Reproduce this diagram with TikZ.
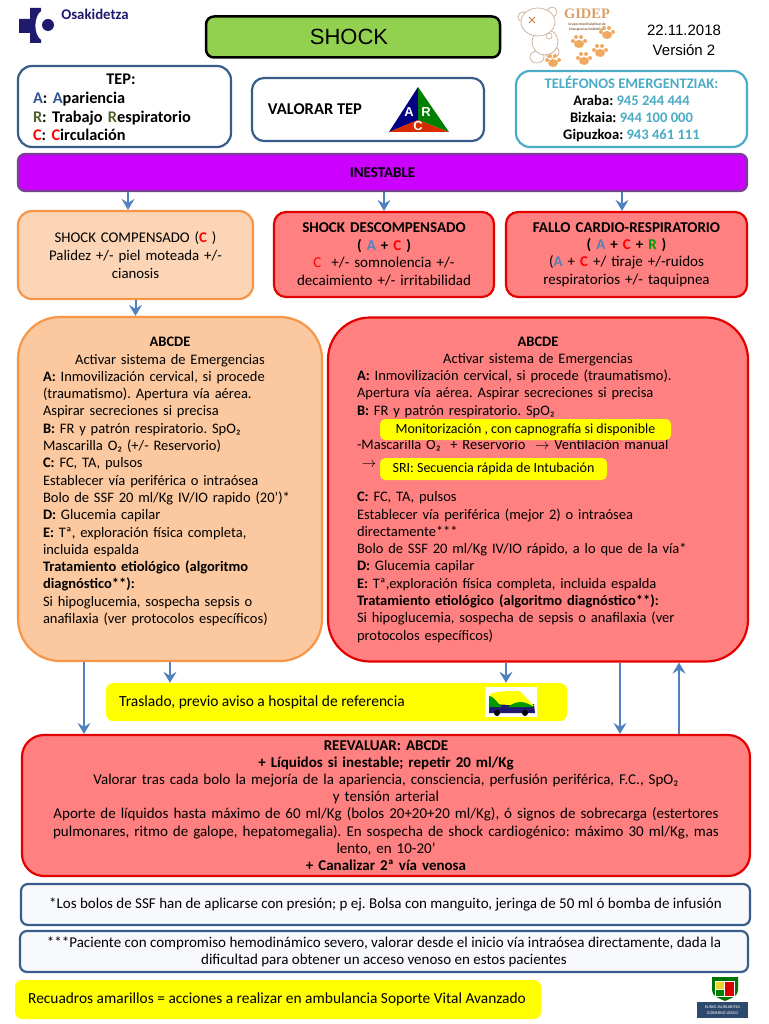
\documentclass[tikz,border=0pt]{standalone}
\usepackage{fontspec}
\setmainfont{Carlito}
\newfontfamily\arialfont{Liberation Sans}
\newfontfamily\gidepfont{Liberation Serif}
\usetikzlibrary{arrows.meta}

\definecolor{verdeshock}{HTML}{92D050}
\definecolor{azulborde}{HTML}{385D8A}
\definecolor{azulcielo}{HTML}{4BACC6}
\definecolor{azulflecha}{HTML}{4F81BD}
\definecolor{morado}{HTML}{CC00FF}
\definecolor{moradoborde}{HTML}{7B3F98}
\definecolor{naranja}{HTML}{F79646}
\definecolor{naranjaclaro}{HTML}{FBD5B5}
\definecolor{naranjafondo}{HTML}{FBC89F}
\definecolor{rojofondo}{HTML}{FF8080}
\definecolor{amarillo}{HTML}{FFFF00}
\definecolor{marino}{HTML}{1F1A6E}
\definecolor{oso}{HTML}{EFA960}
\definecolor{osolinea}{HTML}{C9AE96}
\definecolor{letraA}{HTML}{2F5597}
\definecolor{letraR}{HTML}{4F6228}
\definecolor{notafondo}{HTML}{F8F9FC}

\newcommand{\lineac}[1]{\makebox[\linewidth][c]{#1}}

\begin{document}
\frenchspacing
\begin{tikzpicture}[x=1pt, y=-1pt,
    caja/.style={rounded corners=#1, line width=2.2pt, align=center, inner sep=0pt,
                 font=\fontsize{14.5}{17.3}\selectfont},
    caja/.default=12pt,
    nota/.style={caja=7pt, draw=azulborde, fill=notafondo, font=\fontsize{15}{17.2}\selectfont},
    flecha/.style={draw=azulflecha, line width=2pt, -{Stealth[length=11pt, width=13pt, inset=4pt]}},
    amarilla/.style={fill=amarillo, rounded corners=5pt, inner sep=0pt, align=left,
                     font=\fontsize{14}{15}\selectfont},
    letra/.style={text=white, font=\arialfont\bfseries\fontsize{13}{13}\selectfont, inner sep=0pt}]
    \useasboundingbox (0,0) rectangle (768,1024);
    \fill[white] (0,0) rectangle (768,1024);

    % Cabecera
    \node[caja=8pt, draw=black, line width=2.5pt, fill=verdeshock, minimum width=294pt, minimum height=41pt,
          font=\arialfont\fontsize{22}{24}\selectfont] (shock) at (353,37) {SHOCK\kern8pt};
    \node[font=\arialfont\fontsize{15}{20}\selectfont, align=center, inner sep=0pt] (fecha) at (684,40) {22.11.2018\\Versión 2};

    % Logo Osakidetza
    \fill[marino] (30,8) -- (41,8) -- (41,11) .. controls (34,16) and (33,34) .. (41,40) -- (41,43) -- (30,43)
        -- (30,33) -- (19,33) -- (19,19) -- (30,19) -- cycle;
    \fill[marino] (48,25) circle (6pt);
    \node[text=marino, font=\bfseries\fontsize{14.8}{16}\selectfont, inner sep=0pt] (osakidetza) at (95,14) {Osakidetza};

    % Logo GIDEP
    \draw[osolinea, line width=.7pt, fill=white] (523,17) circle (5pt);
    \draw[osolinea, line width=.7pt, fill=white] (552,12) circle (5pt);
    \draw[osolinea, line width=.7pt, fill=white] (537,57) ellipse (7pt and 6pt);
    \draw[osolinea, line width=.7pt, fill=white] (552,52) ellipse (7pt and 6pt);
    \draw[osolinea, line width=.7pt, fill=white] (545,42) ellipse (13pt and 13pt);
    \draw[osolinea, line width=.7pt, fill=white] (538,22) ellipse (17pt and 14pt);
    \draw[osolinea, line width=.6pt] (549,36) circle (3pt);
    \draw[brown, line width=1pt] (529,17) -- (535,23) (535,17) -- (529,23);
    \node[text=oso!80!gray, font=\gidepfont\bfseries\fontsize{14.5}{14}\selectfont, inner sep=0pt] (gidep) at (587,14) {GIDEP};
    \node[text=brown!70!black, font=\bfseries\fontsize{3.6}{4.4}\selectfont, align=center, inner sep=0pt] (grupo) at (587,27) {Grupo Interdisciplinar de\\Emergencias Pediátricas};
    \foreach \px/\py in {553/61, 584/59, 600/51, 579/42, 607/33}{
        \begin{scope}[shift={(\px,\py)}]
            \fill[oso] (0,2) ellipse (5pt and 4pt);
            \fill[oso] (-6,-1) circle (2pt);
            \fill[oso] (-3,-5) circle (2pt);
            \fill[oso] (2,-5) circle (2pt);
            \fill[oso] (6,-1) circle (2pt);
        \end{scope}
    }

    % Fila TEP
    \node[caja=14pt, draw=azulborde, minimum width=213pt, minimum height=81pt] (tep) at (124.5,106.5) {};
    \node[font=\bfseries\fontsize{16.3}{18.7}\selectfont, align=left, inner sep=0pt, text width=176pt] (teptxt) at (121,107.5)
        {\lineac{TEP:}\\{\color{letraA}A}: {\color{letraA}A}pariencia\\{\color{letraR}R}: Trabajo {\color{letraR}R}espiratorio\\{\color{red}C}: {\color{red}C}irculación};
    \node[caja=12pt, draw=azulborde, minimum width=232pt, minimum height=63pt] (valorar) at (368,109.5) {};
    \node[font=\bfseries\fontsize{16.5}{17}\selectfont, inner sep=0pt] (valorartxt) at (315,109) {VALORAR TEP};
    \coordinate (arriba) at (418,87);
    \coordinate (izq) at (389,132);
    \coordinate (der) at (449,132);
    \coordinate (centro) at (418,120);
    \fill[blue!50!black] (arriba) -- (izq) -- (centro) -- cycle;
    \fill[green!50!black] (arriba) -- (der) -- (centro) -- cycle;
    \fill[red!60!orange!85!black] (izq) -- (der) -- (centro) -- cycle;
    \node[letra] (letA) at (409,112) {A};
    \node[letra] (letR) at (426,112) {R};
    \node[letra] (letC) at (418,126) {C};
    \node[caja=14pt, draw=azulcielo, minimum width=231pt, minimum height=76pt,
          font=\bfseries\fontsize{14.6}{17}\selectfont] (telefonos) at (631.5,109)
        {{\color{azulcielo}TELÉFONOS EMERGENTZIAK:}\\Araba: {\color{azulcielo}945 244 444}\\Bizkaia: {\color{azulcielo}944 100 000}\\Gipuzkoa: {\color{azulcielo}943 461 111}};

    % Inestable
    \node[caja=7pt, draw=moradoborde, fill=morado, minimum width=729pt, minimum height=37pt,
          font=\bfseries\fontsize{15}{15}\selectfont] (inestable) at (382.5,172.5) {INESTABLE};

    % Tipos de shock
    \node[caja=14pt, draw=naranja, fill=naranjaclaro, minimum width=235pt, minimum height=88pt, text width=205pt,
          font=\fontsize{14.8}{18}\selectfont] (compensado) at (135.5,255)
        {SHOCK COMPENSADO ({\color{red}\textbf{C}} )\\Palidez +/- piel moteada +/-\\cianosis};
    \node[caja=12pt, draw=red!90!black, fill=rojofondo, minimum width=220pt, minimum height=85pt, text width=210pt,
          font=\fontsize{15}{17.4}\selectfont] (descompensado) at (384,254.5)
        {\textbf{SHOCK DESCOMPENSADO}\\\textbf{( {\color{azulflecha}A} + {\color{red}C} )}\\{\color{red}C} \ +/- somnolencia +/-\\decaimiento +/- irritabilidad};
    \node[caja=12pt, draw=red!90!black, fill=rojofondo, minimum width=241pt, minimum height=85pt, text width=230pt,
          font=\fontsize{15}{17.4}\selectfont] (fallo) at (626.5,254.5)
        {\textbf{FALLO CARDIO-RESPIRATORIO}\\\textbf{( {\color{azulflecha}A} + {\color{red}C} + {\color{green!60!black}R} )}\\({\color{azulflecha}\textbf{A}} + {\color{red}\textbf{C}} +/ tiraje +/-ruidos\\respiratorios +/- taquipnea};

    % ABCDE
    \node[caja=42pt, draw=naranja, fill=naranjafondo, minimum width=304pt, minimum height=344pt, text width=254pt, align=left] (abcdeA) at (170,489)
        {\lineac{\textbf{ABCDE}}\\
         \lineac{Activar sistema de Emergencias}\\
         \textbf{A:} Inmovilización cervical, si procede\\
         (traumatismo). Apertura vía aérea.\\
         Aspirar secreciones si precisa\\
         \textbf{B:} FR y patrón respiratorio. SpO₂\\
         Mascarilla O₂ (+/- Reservorio)\\
         \textbf{C:} FC, TA, pulsos\\
         Establecer vía periférica o intraósea\\
         \mbox{Bolo de SSF 20 ml/Kg IV/IO rapido (20’)*}\\
         \textbf{D:} Glucemia capilar\\
         \textbf{E:} Tª, exploración física completa,\\
         incluida espalda\\
         \textbf{Tratamiento etiológico (algoritmo}\\
         \textbf{diagnóstico**):}\\
         Si hipoglucemia, sospecha sepsis o\\
         anafilaxia (ver protocolos específicos)\\
         \mbox{}};
    \node[caja=42pt, draw=red!90!black, fill=rojofondo, minimum width=420pt, minimum height=344pt, text width=362pt, align=left] (abcdeB) at (538,489.5)
        {\lineac{\textbf{ABCDE}}\\
         \lineac{Activar sistema de Emergencias}\\
         \textbf{A:} Inmovilización cervical, si procede (traumatismo).\\
         Apertura vía aérea. Aspirar secreciones si precisa\\
         \textbf{B:} FR y patrón respiratorio. SpO₂\\
         \mbox{}\\
         -Mascarilla O₂ \ + Reservorio \ $\rightarrow$ Ventilación manual\\
         \ $\rightarrow$\\
         \mbox{}\\
         \textbf{C:} FC, TA, pulsos\\
         Establecer vía periférica (mejor 2) o intraósea\\
         directamente***\\
         Bolo de SSF 20 ml/Kg IV/IO rápido, a lo que de la vía*\\
         \textbf{D:} Glucemia capilar\\
         \textbf{E:} Tª,exploración física completa, incluida espalda\\
         \textbf{Tratamiento etiológico (algoritmo diagnóstico**):}\\
         Si hipoglucemia, sospecha de sepsis o anafilaxia (ver\\
         protocolos específicos)};
    \node[amarilla, minimum width=291pt, minimum height=21pt] (monit) at (525.5,429.5) {Monitorización , con capnografía si disponible};
    \node[amarilla, minimum width=227pt, minimum height=22pt] (sri) at (493.5,469) {SRI: Secuencia rápida de Intubación};

    % Traslado
    \node[amarilla, minimum width=461pt, minimum height=38pt, rounded corners=7pt] (traslado) at (336.5,702) {};
    \node[inner sep=0pt, font=\fontsize{15.5}{15}\selectfont] (traslatxt) at (262,702) {Traslado, previo aviso a hospital de referencia};
    \fill[white] (485,687) rectangle (537,717);
    \fill[marino] (489,704) -- (534,704) -- (535,713) -- (489,713) -- cycle;
    \fill[amarillo] (489,704) -- (489,695) .. controls (492,692) and (500,691) .. (520,691) -- (534,706) -- cycle;
    \fill[green!60!black] (489,707) -- (489,696) .. controls (494,696) and (496,702) .. (502,707) -- cycle;
    \fill[green!60!black] (508,707) .. controls (518,699) and (526,702) .. (534,707) -- cycle;
    \fill[black] (497,713) circle (3pt);
    \fill[black] (525,713) circle (3pt);

    % Reevaluar
    \node[caja=22pt, draw=red!90!black, fill=rojofondo, minimum width=728pt, minimum height=141pt, text width=690pt,
          font=\fontsize{15}{17.2}\selectfont] (reevaluar) at (386,805.5)
        {\textbf{REEVALUAR: ABCDE}\\
         \textbf{+ Líquidos si inestable; repetir 20 ml/Kg}\\
         Valorar tras cada bolo la mejoría de la apariencia, consciencia, perfusión periférica, F.C., SpO₂\\
         y tensión arterial\\
         Aporte de líquidos hasta máximo de 60 ml/Kg (bolos 20+20+20 ml/Kg), ó signos de sobrecarga (estertores\\
         pulmonares, ritmo de galope, hepatomegalia). En sospecha de shock cardiogénico: máximo 30 ml/Kg, mas\\
         lento, en 10-20’\\
         \textbf{+ Canalizar 2ª vía venosa}};

    % Notas
    \node[nota, minimum width=729pt, minimum height=41pt] (nota1) at (385.5,904.5)
        {*Los bolos de SSF han de aplicarse con presión; p ej. Bolsa con manguito, jeringa de 50 ml ó bomba de infusión};
    \node[nota, minimum width=728pt, minimum height=41pt] (nota2) at (384,951.5)
        {***Paciente con compromiso hemodinámico severo, valorar desde el inicio vía intraósea directamente, dada la\\dificultad para obtener un acceso venoso en estos pacientes};
    \node[amarilla, minimum width=526pt, minimum height=39pt, rounded corners=7pt] (recuadros) at (278,999.5) {};
    \node[inner sep=0pt, font=\fontsize{15.4}{15}\selectfont] (recutxt) at (277,999.5) {Recuadros amarillos = acciones a realizar en ambulancia Soporte Vital Avanzado};

    % Escudo
    \fill[green!45!black] (712,977) -- (738,977) -- (738,990) .. controls (738,996) and (732,998) .. (725,1001) .. controls (718,998) and (712,996) .. (712,990) -- cycle;
    \fill[white] (715,981) rectangle (735,997);
    \fill[red!85!black] (725,982) rectangle (734,996);
    \fill[yellow!70!brown] (716,982) rectangle (724,989);
    \fill[green!50!black] (716,990) rectangle (724,996);
    \node[fill=azulborde!80!black, text=white, font=\fontsize{4.2}{6.5}\selectfont, align=center, minimum width=51pt, minimum height=16pt, inner sep=0pt] (gobierno) at (722.5,1010) {EUSKO JAURLARITZA\\GOBIERNO VASCO};

    % Flechas
    \draw[flecha] (inestable.south -| 128,0) -- (compensado.north -| 128,0);
    \draw[flecha] (inestable.south -| descompensado.north) -- (descompensado.north);
    \draw[flecha] (inestable.south -| 622,0) -- (fallo.north -| 622,0);
    \draw[flecha] (compensado.south) -- (compensado.south |- abcdeA.north);
    \draw[flecha] (abcdeA.south -| 84,0) -- (reevaluar.north -| 84,0);
    \draw[flecha] (abcdeA.south) -- (traslado.north -| abcdeA.south);
    \draw[flecha] (abcdeB.south -| 506,0) -- (traslado.north -| 506,0);
    \draw[flecha] (abcdeB.south -| 620,0) -- (reevaluar.north -| 620,0);
    \draw[flecha] (reevaluar.north -| 679,0) -- (abcdeB.south -| 679,0);
\end{tikzpicture}
\end{document}
